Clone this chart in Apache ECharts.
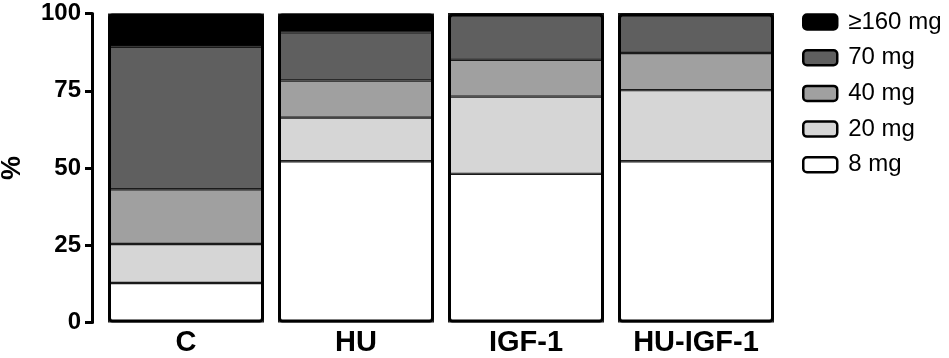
<!DOCTYPE html>
<html lang="en">
<head>
    <meta charset="utf-8">
    <title>dose distribution</title>
    <script src="https://cdn.jsdelivr.net/npm/echarts@6/dist/echarts.min.js"></script>
    <style>
        html, body { margin: 0; padding: 0; background: #fff; }
    </style>
</head>
<body>
<div id="chart" style="width:949px; height:358px;"></div>

<script>
    // groups on the x axis
    var groups = ['C', 'HU', 'IGF-1', 'HU-IGF-1'];
    // percent per dose
    var dose8 = [12.8, 52.2, 48.1, 52.2];
    var dose20 = [12.6, 14.1, 25.0, 23.0];
    var dose40 = [17.7, 12.0, 11.9, 12.0];
    var dose70 = [46.1, 15.6, 15.0, 12.8];
    var dose160 = [10.8, 6.1, 0, 0];
    var yTicks = [0, 25, 50, 75, 100];

    var font = 'Liberation Sans, Arial, Helvetica, sans-serif';

    var layers = [
        { name: '8 mg', data: dose8, color: '#ffffff' },
        { name: '20 mg', data: dose20, color: '#d6d6d6' },
        { name: '40 mg', data: dose40, color: '#a0a0a0' },
        { name: '70 mg', data: dose70, color: '#5f5f5f' },
        { name: '≥160 mg', data: dose160, color: '#000000' }
    ];

    var series = layers.map(function (l) {
        return {
            name: l.name,
            type: 'bar',
            stack: 'dose',
            barWidth: 156,
            data: l.data,
            itemStyle: { color: l.color, borderColor: '#1a1a1a', borderWidth: 1.2 }
        };
    });

    // outline of each whole column, drawn on top
    var totals = groups.map(function (g, i) {
        return layers.reduce(function (s, l) { return s + l.data[i]; }, 0);
    });
    series.push({
        name: 'outline',
        type: 'bar',
        barWidth: 156,
        barGap: '-100%',
        data: totals,
        silent: true,
        z: 5,
        itemStyle: { color: 'rgba(0,0,0,0)', borderColor: '#000', borderWidth: 3, borderRadius: 3 }
    });

    var chart = echarts.init(document.getElementById('chart'));
    chart.setOption({
        animation: false,
        backgroundColor: '#fff',
        grid: { left: 101, right: 168, top: 13.5, bottom: 35.5, outerBoundsMode: 'none' },
        legend: {
            orient: 'vertical',
            left: 797,
            top: 5,
            itemWidth: 34,
            itemHeight: 15,
            itemGap: 11.7,
            icon: 'roundRect',
            selectedMode: false,
            data: ['≥160 mg', '70 mg', '40 mg', '20 mg', '8 mg'],
            itemStyle: { borderColor: '#000', borderWidth: 2.5 },
            textStyle: { fontFamily: font, fontSize: 24, color: '#000', lineHeight: 24, padding: [0, 0, 0, 6] }
        },
        xAxis: {
            type: 'category',
            data: groups,
            axisLine: { show: false },
            axisTick: { show: false },
            axisLabel: { fontFamily: font, fontSize: 29, fontWeight: 'bold', color: '#000', margin: 6 }
        },
        yAxis: {
            type: 'value',
            min: yTicks[0],
            max: yTicks[yTicks.length - 1],
            interval: 25,
            offset: 9,
            name: '%',
            nameLocation: 'middle',
            nameRotate: 90,
            nameGap: 66,
            nameTextStyle: { fontFamily: font, fontSize: 27, fontWeight: 'bold', color: '#000' },
            splitLine: { show: false },
            axisLine: { show: true, lineStyle: { color: '#000', width: 3 } },
            axisTick: { show: true, length: 7, lineStyle: { color: '#000', width: 3 } },
            axisLabel: { fontFamily: font, fontSize: 24, fontWeight: 'bold', color: '#000', margin: 11 }
        },
        series: series
    });
</script>
</body>
</html>
